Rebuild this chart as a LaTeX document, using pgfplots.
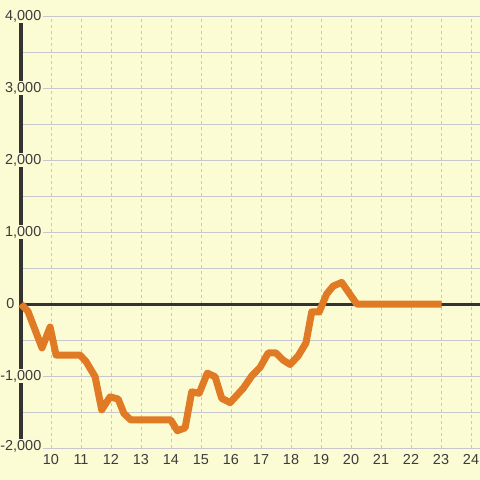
\documentclass[border=0pt]{standalone}
\usepackage{fontspec}
\setmainfont{Liberation Sans}
\usepackage{pgfplots}
\pgfplotsset{compat=1.18}
\definecolor{bg}{RGB}{252,252,212}
\definecolor{gridc}{RGB}{198,198,204}
\definecolor{axc}{RGB}{51,51,51}
\definecolor{linec}{RGB}{224,122,36}
\definecolor{txt}{RGB}{60,60,60}
\begin{document}
\begin{tikzpicture}
\begin{axis}[
  set layers,
  scale only axis,
  width=459bp, height=432bp,
  xmin=9, xmax=24.3, ymin=-2000, ymax=4000,
  axis line style={draw=none},
  /pgf/number format/assume math mode=true,
  xtick={10,...,24},
  ytick={-2000,-1000,1000,2000,3000,4000},
  yticklabels={{\raisebox{5bp}{-2,000}},{-1,000},{1,000},{2,000},{3,000},{4,000}},
  extra y ticks={0},
  extra y tick labels={0},
  extra y tick style={yticklabel style={xshift=-27bp, fill=none}, grid=none},
  minor ytick={-1500,-500,500,1500,2500,3500},
  major tick length=0pt, minor tick length=0pt,
  xmajorgrids, ymajorgrids, yminorgrids,
  major x grid style={gridc, line width=1bp, dash pattern=on 3bp off 3bp},
  major y grid style={gridc, line width=1bp},
  minor y grid style={gridc, line width=1bp},
  ticklabel style={font=\fontsize{14.5}{15}\selectfont, text=txt},
  yticklabel style={anchor=east, xshift=22bp, fill=bg, inner sep=1.5bp},
  xticklabel style={anchor=north, yshift=-3bp},
  clip=false,
]
\begin{pgfonlayer}{axis background}
\fill[bg] ([xshift=-21bp,yshift=-32bp]rel axis cs:0,0) rectangle ([yshift=16bp]rel axis cs:1,1);
\end{pgfonlayer}
\begin{pgfonlayer}{axis lines}
\draw[axc, line width=3bp] (axis cs:9,-2000) -- (axis cs:9,4000);
\draw[axc, line width=3bp] (axis cs:9,0) -- (axis cs:24.3,0);
\end{pgfonlayer}
\addplot[linec, line width=7bp, line join=round, no marks] coordinates {
(9.0,0) (9.23,-100) (9.7,-610) (9.97,-320) (10.17,-710) (10.97,-710)
(11.17,-800) (11.47,-1010) (11.69,-1470) (11.97,-1290) (12.24,-1320)
(12.43,-1520) (12.66,-1610) (13.99,-1610) (14.21,-1760) (14.47,-1720)
(14.69,-1220) (14.94,-1240) (15.21,-960) (15.47,-1010) (15.69,-1310)
(15.97,-1370) (16.41,-1170) (16.69,-1000) (16.97,-880) (17.24,-680)
(17.5,-680) (17.74,-780) (17.97,-840) (18.24,-720) (18.5,-540)
(18.69,-110) (18.94,-110) (19.19,140) (19.41,250) (19.69,300)
(20.19,0) (23.02,0)
};
\end{axis}
\pgfresetboundingbox
\useasboundingbox (-21bp,-32bp) rectangle (459bp,448bp);
\end{tikzpicture}
\end{document}
